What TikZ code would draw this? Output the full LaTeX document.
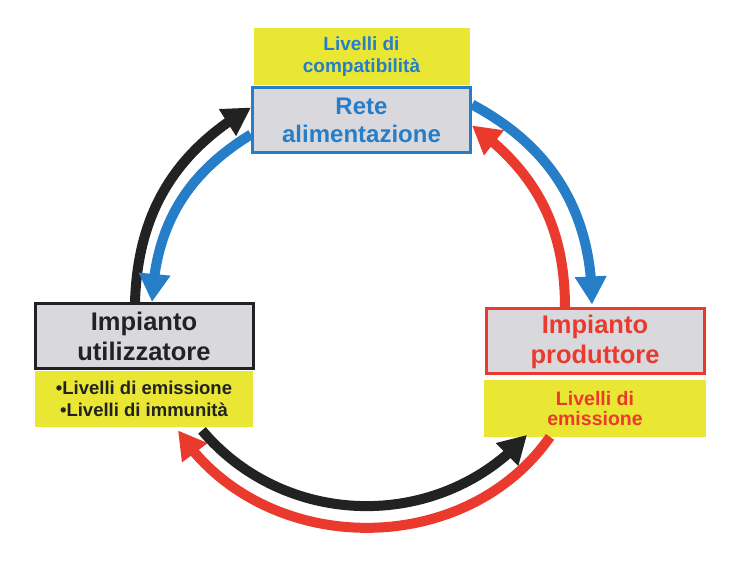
\documentclass[tikz,border=0pt]{standalone}
\usepackage{fontspec}
\setmainfont{Liberation Sans}
\usetikzlibrary{arrows.meta,bending,positioning}
\definecolor{netblue}{RGB}{38,126,200}
\definecolor{prodred}{RGB}{234,58,46}
\definecolor{userblack}{RGB}{34,34,34}
\definecolor{noteyellow}{RGB}{234,230,52}
\definecolor{boxgray}{RGB}{217,217,221}
\tikzset{
    plant box/.style={draw=#1,line width=3pt,fill=boxgray,text=#1,
        minimum width=218pt,minimum height=65pt,inner sep=0pt,align=center,
        font=\bfseries\fontsize{25.5}{30}\selectfont},
    level box/.style={fill=noteyellow,text=#1,minimum width=218pt,minimum height=57pt,
        inner sep=0pt,align=center,font=\bfseries\fontsize{19}{22}\selectfont},
    flow arrow/.style={draw=#1,line width=10pt,-{Triangle[length=28pt,width=30pt]}}
}

\begin{document}
\begin{tikzpicture}[x=1pt,y=1pt]
\useasboundingbox (0,0) rectangle (740,570);

% ========= Supply network =========
\node[plant box=netblue,font=\bfseries\fontsize{24}{28}\selectfont] (rete) at (361.5,449.5) {Rete\\alimentazione};
\node[level box=netblue,above=1pt of rete,minimum width=216pt] (compat) {Livelli di\\compatibilità};

% ========= User plant =========
\node[plant box=userblack] (util) at (144,234) {Impianto\\utilizzatore};
\node[level box=userblack,below=1pt of util,minimum height=56pt,
    font=\bfseries\fontsize{18.5}{22}\selectfont] (emimm) {•Livelli di emissione\\•Livelli di immunità};

% ========= Producer plant =========
\node[plant box=prodred] (prod) at (595,228.5) {Impianto\\produttore};
\node[level box=prodred,below=4pt of prod,minimum width=222pt,
    font=\bfseries\fontsize{19.5}{20}\selectfont] (emis) {Livelli di\\emissione};

% ========= Flows =========
\draw[flow arrow=userblack] ([xshift=-9pt]util.north) to[bend left=29] ([yshift=13pt]rete.west);
\draw[flow arrow=netblue] ([yshift=-14pt]rete.west) to[bend right=28] ([xshift=8pt]util.north);

\draw[flow arrow=netblue] ([yshift=16pt]rete.east) to[bend left=31] ([xshift=-3pt,yshift=3pt]prod.north);
\draw[flow arrow=prodred] ([xshift=-30pt]prod.north) to[bend right=27] ([yshift=-5pt]rete.east);

\draw[flow arrow=userblack] ([xshift=58pt,yshift=-3pt]emimm.south) to[bend right=49,looseness=1.02] ([xshift=-68pt,yshift=2pt]emis.south);
\draw[flow arrow=prodred] ([xshift=-45pt]emis.south) to[bend left=56,looseness=1.04] ([xshift=34pt,yshift=-3pt]emimm.south);

\end{tikzpicture}
\end{document}
